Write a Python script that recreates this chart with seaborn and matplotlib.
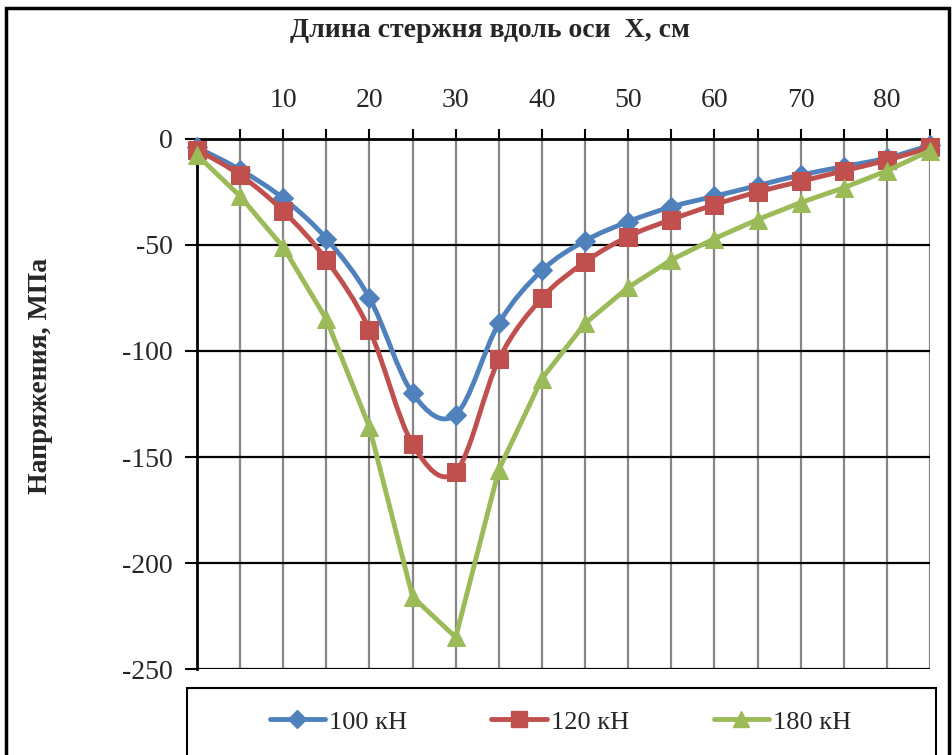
import numpy as np
import pandas as pd
import seaborn as sns
import matplotlib
matplotlib.use("Agg")
import matplotlib.pyplot as plt
from matplotlib.path import Path
from matplotlib.patches import PathPatch, Rectangle
from matplotlib.lines import Line2D

x_cm = [0, 5, 10, 15, 20, 25, 30, 35, 40, 45, 50, 55, 60, 65, 70, 75, 80, 85]
s100 = [-4, -14.5, -28, -47, -75, -120, -130, -87, -62, -48, -39, -32, -27, -22, -17, -13, -9, -3]
s120 = [-5, -17, -34, -57, -90, -144, -157, -104, -75, -58, -46, -38, -31, -25, -20, -15, -10, -4]
s180 = [-7.5, -27, -51, -85, -136, -216, -235, -156, -113, -87, -70, -57, -47, -38, -30, -23, -15, -5.5]
labels = ["100 кН", "120 кН", "180 кН"]
colors = ["#4F81BD", "#C0504D", "#9BBB59"]
markers = ["D", "s", "^"]
msizes = [10.5, 13, 13]
smooth = [True, True, False]
x_tick_values = [10, 20, 30, 40, 50, 60, 70, 80]
y_ticks = [0, -50, -100, -150, -200, -250]

sns.set_theme(style="white")
plt.rcParams["font.family"] = ["Liberation Serif", "DejaVu Serif"]

fig = plt.figure(figsize=(9.53, 7.55), dpi=100)
ax = fig.add_axes([0.2067, 0.1139, 0.7692, 0.702])

df = pd.DataFrame({"x": x_cm * 3,
                   "y": s100 + s120 + s180,
                   "s": [labels[0]] * 18 + [labels[1]] * 18 + [labels[2]] * 18})


def smooth_path(xs, ys):
    P = np.column_stack([xs, ys]).astype(float)
    n = len(P)
    verts = [P[0]]
    codes = [Path.MOVETO]
    for i in range(n - 1):
        p0 = P[i - 1] if i > 0 else P[i]
        p1 = P[i]
        p2 = P[i + 1]
        p3 = P[i + 2] if i + 2 < n else P[i + 1]
        c1 = p1 + (p2 - p0) / 6.0
        c2 = p2 - (p3 - p1) / 6.0
        verts += [c1, c2, p2]
        codes += [Path.CURVE4] * 3
    return Path(verts, codes)


LW = 3.5
for i, lab in enumerate(labels):
    sub = df[df["s"] == lab]
    if smooth[i]:
        ax.add_patch(PathPatch(smooth_path(sub["x"].values, sub["y"].values),
                               facecolor="none", edgecolor=colors[i], lw=LW,
                               zorder=3 + i, clip_on=False))
        sns.lineplot(data=sub, x="x", y="y", ax=ax, color=colors[i], lw=0,
                     marker=markers[i], markersize=msizes[i], markeredgecolor=colors[i],
                     zorder=4 + i, clip_on=False, legend=False)
    else:
        sns.lineplot(data=sub, x="x", y="y", ax=ax, color=colors[i], lw=LW,
                     marker=markers[i], markersize=msizes[i], markeredgecolor=colors[i],
                     zorder=4 + i, clip_on=False, legend=False)

ax.set_xlim(0, 85)
ax.set_ylim(-250, 0)
ax.xaxis.tick_top()
xt = list(range(5, 90, 5))
ax.set_xticks(xt)
ax.set_xticklabels([str(v) if v in x_tick_values else "" for v in xt])
ax.set_yticks(y_ticks)
ax.set_yticklabels([str(v) for v in y_ticks])
ax.tick_params(axis="x", which="major", direction="out", length=7, width=1.5,
               color="black", labelsize=20, pad=12, top=True, bottom=False)
ax.tick_params(axis="y", which="major", direction="out", length=9, width=1.5,
               color="black", labelsize=20, pad=8.5, left=True)
ax.set_xlabel("")
ax.set_ylabel("")

for v in xt:
    ax.axvline(v, color="#868686", lw=1.6, zorder=1)
for v in y_ticks:
    ax.axhline(v, color="black", lw=1.6, zorder=2)

for side in ["right", "bottom"]:
    ax.spines[side].set_visible(False)
ax.spines["top"].set_color("black")
ax.spines["top"].set_linewidth(2)
ax.spines["left"].set_color("black")
ax.spines["left"].set_linewidth(2)

fig.text(0.514, 0.960, "Длина стержня вдоль оси  X, см", ha="center", va="center",
         fontsize=20, fontweight="bold")
fig.text(0.042, 0.502, "Напряжения, МПа", ha="center", va="center", rotation=90,
         fontsize=20, fontweight="bold")

# outer frame
fig.patches.append(Rectangle((0.006, -0.05), 0.99, 1.04, transform=fig.transFigure,
                             fill=False, edgecolor="black", lw=2.5))
# legend box
fig.patches.append(Rectangle((0.196, -0.05), 0.786, 0.139, transform=fig.transFigure,
                             fill=False, edgecolor="black", lw=1.5))
handles = [Line2D([0], [0], color=colors[i], lw=LW, marker=markers[i],
                  markersize=msizes[i] * 0.9, markeredgecolor=colors[i]) for i in range(3)]
fig.legend(handles, labels, loc="center", bbox_to_anchor=(0.588, 0.044), ncol=3,
           frameon=False, fontsize=19, handlelength=2.1, handletextpad=0.15,
           columnspacing=3.2)

fig.savefig("out.png", dpi=100)
